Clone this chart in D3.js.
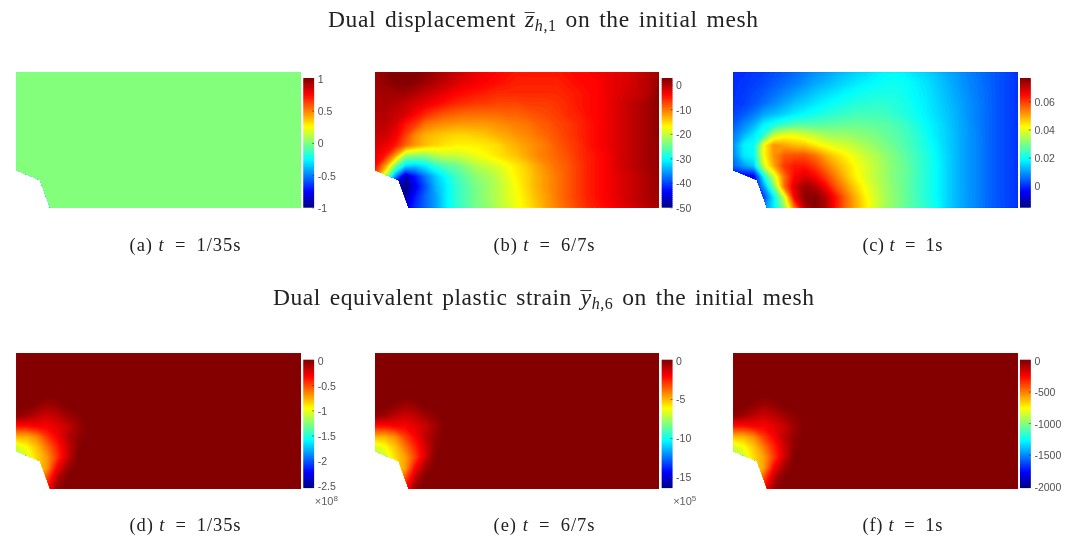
<!DOCTYPE html>
<html><head><meta charset="utf-8">
<script src="https://cdn.jsdelivr.net/npm/d3@7"></script>
<style>
html,body{margin:0;background:#fff}
svg{display:block;filter:blur(0.55px)}
.t{font-family:"Liberation Serif",serif;fill:#222}
.axis text{font-family:"Liberation Sans",sans-serif;font-size:10.5px;fill:#505050}
.axis line{stroke:#333;stroke-width:.6}
.axis path{display:none}
</style></head><body>
<script>
// ---------- data (grid of 29 x 14 nodes over the mesh) ----------
const fieldA = d3.range(14).map(() => d3.range(29).map(() => 0));
const fieldB = [
[1,2,3,3,2.5,2,1,0,-1,-2,-3,-3.5,-4,-4.5,-5,-5,-5,-5,-5,-4.5,-4,-4,-3.5,-3,-2.5,-2,-1,0,1],
[1,1.5,2.5,2.5,2,1,0,-1,-2,-3,-3.5,-4,-4.5,-5,-5.5,-5.5,-5.5,-5.5,-5.5,-5,-4.5,-4,-4,-3,-2.5,-2,-1,0,1.5],
[.5,1,1,1,0,-1,-2,-3,-4,-4.5,-5,-5.5,-6,-6,-6,-6,-6,-6,-6,-5.5,-5,-4.5,-4,-3,-2.5,-1.5,-1,0,2],
[.5,.5,0,-1,-2,-3,-4,-5,-6,-6.5,-7,-7,-7.5,-7.5,-7.5,-7,-7,-7,-6.5,-6,-5,-4.5,-4,-3,-2,-1,0,1,2],
[0,0,-1,-2,-4,-6,-7.5,-8.5,-9,-9.5,-9.5,-9.5,-9.5,-9,-9,-8.5,-8,-7.5,-7,-6,-5.5,-4.5,-4,-3,-2,-1,0,1,2],
[-.5,-.5,-2,-5,-7,-10,-11,-11.5,-12,-12,-12,-12,-11.5,-11,-10.5,-10,-9,-8.5,-7.5,-7,-6,-5,-4,-3,-2,-1,0,1,2],
[-1,-1.5,-3,-7,-11,-13,-14,-14.5,-15,-15,-14.5,-14,-13,-12.5,-11.5,-11,-10,-9,-8,-7,-6,-5,-4,-3,-2,-1,0,1,2],
[-2,-3,-5,-9,-12,-14,-15,-16,-16.5,-16.5,-16.5,-16,-15.5,-14,-13,-12,-11,-10,-8.5,-7.5,-6.5,-5,-4,-3,-2,-1,0,1,1.5],
[-3,-5,-12,-22,-23,-23,-21,-20,-20,-19,-18,-17,-16,-15,-14,-12.5,-11,-10,-9,-8,-6.5,-5.5,-4.5,-3.5,-2,-1,0,1,1.5],
[-4,-12,-24,-32,-33,-31,-28,-26,-25,-23,-21,-20,-19,-17.5,-16,-14.5,-12.5,-11,-9.5,-8.5,-7,-5.5,-4.5,-3.5,-2,-1,0,1,1.5],
[-8,-20,-36,-47,-42,-37,-33,-30,-27,-25,-23,-22,-20.5,-18.5,-16.5,-15,-13,-11.5,-10,-8.5,-7,-5.5,-4.5,-3.5,-2.5,-1.5,-.5,.5,1.5],
[-15,-30,-45,-50,-44,-39,-34,-31,-28,-26,-24,-22.5,-21,-19,-17,-15,-13,-11.5,-10,-8.5,-7,-5.5,-4.5,-3.5,-2.5,-1.5,-.5,.5,1.5],
[-45,-45,-45,-48,-42,-38,-35,-31,-28,-26,-24,-22.5,-21,-19,-17.5,-15.5,-13.5,-12,-10,-8.5,-7,-5.5,-4.5,-3.5,-2.5,-1.5,-.5,.5,1],
[-45,-45,-45,-45,-41,-38,-35,-31,-28,-26,-24,-23,-21,-19.5,-17.5,-16,-14,-12,-10.5,-9,-7.5,-6,-5,-4,-3,-2,-1,0,.5]
];
// panel (c), in units of 1e-3
const fieldC = [
[0,0,1,1.5,3,4,5.5,7,9,10,12,13.5,15,16,17.5,18.5,19,18,16.5,15,13.5,11.5,10,8,6.5,5,3.5,2,.5],
[0,.5,1.5,2.5,4,5.5,7,9,11,12.5,14,15.5,17,18,19,20,20,19.5,18,16.5,14.5,12.5,10.5,8.5,7,5,3.5,2,.5],
[0,1,2.5,4,6,8,10,12,14,15.5,17,18.5,19.5,20.5,21,21,21,20,18.5,17,15,13,11,9,7,5.5,3.5,2,.5],
[.5,1.5,3.5,6,8.5,11,13.5,15,17,18.5,20,21,22,22.5,23,23,22,21,19,17.5,15.5,13.5,11.5,9.5,7.5,5.5,3.5,2,.5],
[2,4,7,11,13,15,17.5,19,20.5,22,23,24,25,25,25,24.5,23,21.5,20,18,16,14,12,9.5,7.5,5.5,3.5,2,.5],
[4,8,12,18,21,24,26,26.5,26.5,27,27.5,28,28.5,28,27.5,27,25.5,24,21.5,19,17,14.5,12,10,7.5,5.5,3.5,2,.5],
[7,12,17,23,36,40,40,38,36,34,33,33,32,31,30,28,27,25,23,20,17,15,12.5,10,8,5.5,3.5,2,.5],
[9,18,19,42,52,50,48,47,44,41,39,38,36,34,32,30,28,26,23.5,21,18,15,12.5,10,8,5.5,3.5,2,.5],
[8,17,19,42,52,57,58,58,55,50,46,43,40,37,35,32,30,27,24.5,22,18.5,15.5,12.5,10,8,5.5,3.5,2,.5],
[5,10,14,38,50,60,63,63,60,55,50,46,42,39,36,33,30,28,25,22,19,15.5,12.5,10,8,5.5,3.5,2,.5],
[-5,-5,-5,20,38,55,65,68,65,60,54,48,43,39,36,33,30,28,25,22,19,15.5,12.5,10,8,5.5,3.5,2,.5],
[-5,-5,-5,10,30,55,68,74,72,66,58,52,46,41,37,33.5,30.5,28,25,22,19,15.5,12.5,10,8,5.5,3.5,2,.5],
[-5,-5,-5,2,18,38,66,75,76,72,64,56,49,43,38,34,31,28,25,22,19,15.5,12.5,10,8,5.5,3.5,2,.5],
[8,8,8,8,18,32,55,72,76,73,64,56,50,44,38,34,31,28,25.5,23,20,15.5,12.5,10,8,5.5,3.5,2,.5]
];
// panels (d,e,f): only the lower-left block differs from 0 (rows 5-13, columns 0-8)
const blobD = [
[0,0,-.03,-.08,-.05,0,0,0,0],
[-.03,-.08,-.15,-.2,-.15,-.08,-.03,0,0],
[-.35,-.35,-.3,-.3,-.25,-.18,-.08,0,0],
[-.75,-.75,-.65,-.45,-.3,-.15,-.05,0,0],
[-1.05,-.95,-.8,-.6,-.4,-.2,-.03,0,0],
[-1.1,-1.05,-.85,-.7,-.45,-.2,0,0,0],
[-1.1,-1.05,-.85,-.7,-.3,-.08,0,0,0],
[-1,-1,-.8,-.5,-.15,0,0,0,0],
[-1,-1,-.6,-.35,-.05,0,0,0,0]
];
const blobE = [
[0,0,-.2,-.5,-.3,0,0,0,0],
[-.2,-.5,-1,-1.3,-1,-.5,-.2,0,0],
[-2.3,-2.3,-2,-2,-1.6,-1.2,-.5,0,0],
[-4.9,-4.9,-4.3,-3,-2,-1,-.3,0,0],
[-6.9,-6.2,-5.2,-3.9,-2.6,-1.3,-.2,0,0],
[-7.2,-6.9,-5.6,-4.6,-3,-1.3,0,0,0],
[-7.2,-6.9,-5.6,-4.6,-2,-.5,0,0,0],
[-6.5,-6.5,-5.2,-3.3,-1,0,0,0,0],
[-6.5,-6.5,-3.9,-2.3,-.3,0,0,0,0]
];
const blobF = [
[0,0,-25,-65,-40,0,0,0,0],
[-25,-65,-120,-160,-120,-65,-25,0,0],
[-285,-285,-245,-245,-205,-145,-65,0,0],
[-610,-610,-530,-365,-245,-120,-40,0,0],
[-855,-770,-650,-490,-325,-160,-25,0,0],
[-895,-855,-690,-570,-365,-160,0,0,0],
[-895,-855,-690,-570,-245,-65,0,0,0],
[-815,-815,-650,-405,-120,0,0,0,0],
[-815,-815,-490,-285,-40,0,0,0,0]
];
const withBlob = b => d3.range(14).map(j => d3.range(29).map(i => (j >= 5 && i < 9) ? b[j-5][i] : 0));

const domainsLo = [-1, -50, -15.6, -2.54, -16.4, -2026];
const domainsHi = [1, 2.6, 76.5, 0, 0, 0];
const tickVals = [[1,.5,0,-.5,-1],[0,-10,-20,-30,-40,-50],[60,40,20,0],[0,-.5,-1,-1.5,-2,-2.5],[0,-5,-10,-15],[0,-500,-1000,-1500,-2000]];
const tickText = [["1","0.5","0","-0.5","-1"],["0","-10","-20","-30","-40","-50"],["0.06","0.04","0.02","0"],["0","-0.5","-1","-1.5","-2","-2.5"],["0","-5","-10","-15"],["0","-500","-1000","-1500","-2000"]];
const captionLetters = ["(a) ","(b) ","(c) ","(d) ","(e) ","(f) "];
const captionTimes = ["\u2002=\u20021/35s","\u2002=\u20026/7s","\u2002=\u20021s","\u2002=\u20021/35s","\u2002=\u20026/7s","\u2002=\u20021s"];
const scaleExp = [null,null,null,"8","5",null];
const meshX = [0,23.5,33.5,284,284,0];
const meshY = [97.8,107.5,135,135,0,0];

// ---------- layout ----------
const fields = [fieldA, fieldB, fieldC, withBlob(blobD), withBlob(blobE), withBlob(blobF)];
const lefts = [16.5, 375, 733.5];
const barLefts = [303.3, 661.7, 1020];
const capCenters = [185, 544, 902.5];
const capWidths = [111, 101, 80];
const tops = [72.5, 353.5];
const barTop = [78.3, 360], barBot = [207.4, 487.8];
const capBase = [250.5, 530.5];
const MW = 284, MH = 135;

const jet = d3.scaleLinear()
  .domain([0,.125,.375,.625,.875,1])
  .range(["#000080","#0000ff","#00ffff","#ffff00","#ff0000","#800000"])
  .clamp(true);

const svg = d3.select("body").append("svg").attr("width",1080).attr("height",547);
const defs = svg.append("defs");

fields.forEach((field,k) => {
  const col = k%3, row = k<3?0:1;
  const x = d3.scaleLinear().domain([0,MW]).range([lefts[col],lefts[col]+MW]);
  const y = d3.scaleLinear().domain([0,MH]).range([tops[row],tops[row]+MH]);
  const gx = d3.scaleLinear().domain([0,28]).range([0,MW]);
  const gy = d3.scaleLinear().domain([0,13]).range([0,MH]);
  const lo = domainsLo[k], hi = domainsHi[k];
  const norm = d3.scaleLinear().domain([lo,hi]).range([0,1]);

  defs.append("clipPath").attr("id","clip"+k).append("polygon")
    .attr("points", meshX.map((v,i)=>x(v)+","+y(meshY[i])).join(" "));

  const n = 128, step = (hi-lo)/n;
  const thr = d3.range(n).map(i => lo + i*step);
  const values = field.flat();
  const conts = d3.contours().size([29,14]).smooth(true).thresholds(thr)(values);
  const path = d3.geoPath(d3.geoTransform({point(px,py){
    this.stream.point(x(gx(px-.5)), y(gy(py-.5)));
  }}));
  const g = svg.append("g").attr("clip-path","url(#clip"+k+")");
  g.append("rect").attr("x",x(0)).attr("y",y(0)).attr("width",MW).attr("height",MH)
    .attr("fill",jet(norm(d3.min(values))));
  g.selectAll("path").data(conts).join("path")
    .attr("d",path)
    .attr("fill",d => jet(norm(d.value+step/2)));

  // colour bar
  const bx = barLefts[col], bw = 10.8;
  const cy = d3.scaleLinear().domain([lo,hi]).range([barBot[row],barTop[row]]);
  const levels = d3.range(64);
  const band = d3.scaleBand().domain(levels).range([barBot[row],barTop[row]]);
  svg.append("g").selectAll("rect").data(levels).join("rect")
    .attr("x",bx).attr("width",bw)
    .attr("y",d=>band(d)-.3).attr("height",band.bandwidth()+.6)
    .attr("fill",d=>jet((d+.5)/64));
  const ax = d3.axisRight(cy).tickValues(tickVals[k])
    .tickFormat((d,i)=>tickText[k][i]).tickSizeInner(-2).tickSizeOuter(0).tickPadding(3.6);
  const ag = svg.append("g").attr("class","axis").attr("transform",`translate(${bx+bw},0)`).call(ax);
  ag.selectAll("text").attr("dy","0.38em");

  if (scaleExp[k]) {
    const et = svg.append("text").attr("x",bx+11.5).attr("y",504.5)
      .style("font-family","Liberation Sans").style("font-size","11px").attr("fill","#606060");
    et.append("tspan").text("\u00d710");
    et.append("tspan").attr("dy",-4).style("font-size","8px").text(scaleExp[k]);
  }

  // caption
  const cap = svg.append("text").attr("class","t").attr("text-anchor","middle")
    .attr("x",capCenters[col]).attr("y",capBase[row]).style("font-size","18.5px")
    .attr("textLength",capWidths[col]).attr("lengthAdjust","spacing");
  cap.append("tspan").text(captionLetters[k]);
  cap.append("tspan").style("font-style","italic").text("t");
  cap.append("tspan").text(captionTimes[k]);
});

function title(base, sym, sub, after, x0, x1, y) {
  const t = svg.append("text").attr("class","t").attr("x",x0).attr("y",y)
    .style("font-size","23.5px").style("word-spacing","2.5px")
    .attr("textLength",x1-x0).attr("lengthAdjust","spacing");
  t.append("tspan").text(base);
  t.append("tspan").style("font-style","italic").text(sym);
  t.append("tspan").attr("dy",4).style("font-size","16px").style("font-style","italic").text("h");
  t.append("tspan").style("font-size","16px").text(sub);
  t.append("tspan").attr("dy",-4).text(after);
  // bar over the symbol
  const node = t.node(), at = base.length;
  const a = node.getStartPositionOfChar(at), b = node.getEndPositionOfChar(at);
  svg.append("line").attr("x1",a.x-.5).attr("x2",b.x+.5).attr("y1",y-14.5).attr("y2",y-14.5)
    .attr("stroke","#222").attr("stroke-width",.9);
}
title("Dual displacement ","z",",1"," on the initial mesh",328,758,27);
title("Dual equivalent plastic strain ","y",",6"," on the initial mesh",273,814,305);
</script>
</body></html>
